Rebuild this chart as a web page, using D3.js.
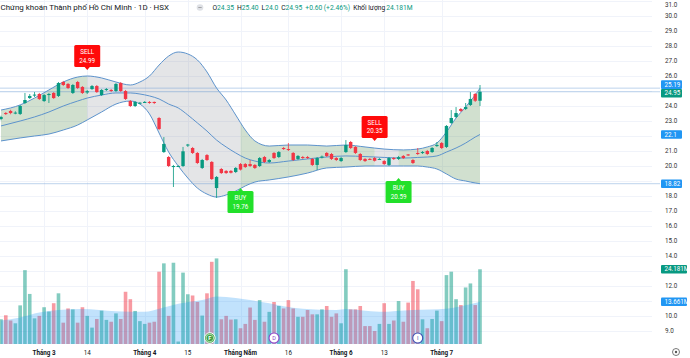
<!DOCTYPE html>
<html><head><meta charset="utf-8">
<script src="https://cdn.jsdelivr.net/npm/d3@7"></script>
<style>
body{margin:0;background:#fff;}
svg{display:block;font-family:Roboto,"Noto Sans",sans-serif;}
</style>
</head><body>
<svg id="c" width="690" height="358"></svg>
<script>
// ---------------- DATA ----------------
const opens = [23.13,23.53,23.67,23.53,23.47,24.2,24.53,24.73,24.8,24.33,
 24.73,24.87,24.67,25.6,25.47,24.87,25.6,25.27,24.9,25.13,
 25.33,24.73,25.1,25.07,25.0,25.53,25.0,24.33,24.0,24.2,
 24.23,24.27,24.27,23.2,20.93,20.6,19.93,19.97,20.0,21.37,
 21.2,20.87,19.87,20.73,20.27,18.53,19.8,19.67,19.67,19.6,
 20.13,20.13,20.13,20.07,20.0,20.6,20.27,20.87,20.6,21.2,
 21.13,20.87,20.47,20.6,20.6,20.47,20.07,20.57,20.87,20.8,
 20.53,20.33,20.93,21.6,21.27,20.8,20.47,20.47,20.53,20.45,
 20.33,20.07,20.53,20.47,20.67,20.77,20.4,20.87,20.87,21.0,
 20.93,21.33,21.53,21.27,22.87,23.27,23.8,23.8,24.07,24.8,
 24.35];
const highs = [23.35,23.6,23.75,23.65,24.07,24.87,24.8,24.93,24.87,24.8,
 24.87,24.93,25.6,25.67,25.53,25.47,25.67,25.33,25.07,25.4,
 25.4,25.13,25.2,25.13,25.53,25.6,25.07,24.4,24.33,24.27,
 24.33,24.33,24.3,23.27,21.93,20.67,20.07,20.05,21.27,21.47,
 21.27,20.93,20.47,20.8,20.33,19.33,19.87,19.73,19.73,19.93,
 20.2,20.2,20.4,20.13,20.6,20.67,20.47,20.93,21.0,21.27,
 21.53,20.93,20.73,20.67,20.67,20.53,20.6,20.7,20.93,20.87,
 20.6,20.6,21.73,21.67,21.33,20.87,20.53,20.53,20.6,20.53,
 20.4,20.6,20.6,20.67,20.73,20.8,20.47,21.2,21.0,21.07,
 21.27,21.6,21.6,22.73,23.73,23.93,23.87,24.2,24.93,24.87,
 25.4];
const lows = [23.05,23.4,23.45,23.45,23.4,24.13,24.47,24.6,24.4,24.27,
 24.2,24.47,24.6,25.33,25.13,24.8,25.13,24.8,24.8,25.07,
 24.87,24.67,25.0,24.93,24.93,24.93,24.4,23.93,23.93,24.13,
 24.2,24.15,24.13,22.4,20.87,19.93,18.6,19.93,19.93,21.27,
 20.8,20.13,19.8,20.33,19.07,17.87,19.47,19.47,19.5,19.53,
 19.7,19.87,19.93,19.8,19.93,20.2,20.2,20.47,20.53,21.07,
 21.0,20.33,20.4,20.47,20.47,20.0,19.73,20.5,20.6,20.4,
 20.33,20.27,20.87,21.13,20.8,20.33,20.27,20.4,20.3,20.4,
 20.07,20.0,20.4,20.4,20.47,20.67,20.13,20.73,20.8,20.73,
 20.87,21.27,21.13,21.2,22.8,23.2,23.6,23.73,24.0,24.27,
 24.0];
const closes = [23.27,23.47,23.53,23.56,24.0,24.4,24.67,24.76,24.47,24.73,
 24.8,24.53,25.53,25.4,25.2,25.4,25.2,24.87,24.99,25.33,
 24.93,25.07,25.13,25.0,25.47,25.0,24.47,24.0,24.27,24.22,
 24.27,24.22,24.2,22.47,21.47,20.0,20.0,20.0,20.98,21.43,
 20.87,20.2,20.4,20.4,19.13,19.27,19.53,19.53,19.55,19.87,
 19.76,19.93,20.0,19.87,20.53,20.27,20.4,20.53,20.93,21.13,
 21.07,20.4,20.67,20.53,20.53,20.07,20.53,20.63,20.67,20.47,
 20.4,20.53,21.4,21.2,20.87,20.4,20.33,20.45,20.35,20.47,
 20.13,20.53,20.47,20.59,20.53,20.73,20.2,20.8,20.93,20.8,
 21.2,21.4,21.2,22.67,23.2,23.53,23.67,23.93,24.47,24.35,
 24.95];
const volumes = [8.0,9.3,7.6,6.7,12.5,23.9,16.2,8.3,9.1,11.9,
 10.5,13.2,16.4,6.9,11.5,11.2,6.9,11.9,9.1,5.3,
 8.1,10.8,7.8,7.2,9.9,8.1,16.9,14.5,10.7,7.4,
 6.5,6.9,7.2,23.4,26.1,9.1,26.3,0.8,23.1,16.1,
 15.7,13.6,9.2,16.4,26.6,27.7,8.0,9.1,7.9,8.0,
 5.1,6.5,11.8,7.8,14.2,7.2,10.4,13.6,12.3,11.5,
 14.2,11.5,8.8,8.8,11.0,9.6,9.6,11.2,12.3,8.8,
 9.9,6.7,24.2,11.2,11.2,12.3,5.8,5.8,4.2,6.5,
 13.2,6.5,7.6,13.9,7.2,13.4,20.4,17.7,8.0,5.1,
 8.1,10.8,7.4,22.3,23.4,14.5,12.6,18.3,19.6,12.6,
 24.181];

// Bollinger band readings (bar index -> price)
const bandIdx   = [0,4,7,10,13,16,18,21,24,27,29,31,33,35,37,39,41,43,45,47,49,51,53,56,60,64,68,72,76,80,84,87,89,91,93,95,97,98,99,100];
const bandUpper = [23.73,24.07,24.53,25.07,25.6,25.93,26.0,25.87,25.6,25.4,25.6,26.0,26.73,27.33,27.6,27.47,27.07,26.27,25.2,24.4,23.4,22.4,21.67,21.33,21.4,21.4,21.33,21.4,21.27,21.13,21.07,21.13,21.27,21.53,22.27,23.2,23.93,24.33,24.73,25.19];
const bandMid   = [22.67,23.0,23.27,23.6,24.0,24.33,24.53,24.73,24.87,24.87,24.8,24.67,24.47,24.13,23.87,23.4,22.87,22.33,21.73,21.27,20.87,20.53,20.33,20.2,20.33,20.47,20.6,20.67,20.63,20.57,20.53,20.57,20.6,20.67,20.93,21.2,21.53,21.73,21.93,22.1];
const bandLower = [21.67,21.87,22.0,22.13,22.4,22.73,23.07,23.6,24.13,24.33,24.13,23.47,22.2,20.93,20.0,19.2,18.53,18.13,17.93,18.07,18.33,18.67,18.93,19.07,19.27,19.53,19.87,19.93,20.0,20.0,20.0,20.0,19.93,19.8,19.47,19.13,19.0,18.93,18.87,18.82];

// Volume moving average readings
const volMaIdx = [0,4,8,12,17,24,30,33,37,42,45,49,52,56,59,63,70,72,79,86,93,96,100];
const volMa    = [7.6,8.6,10.2,11.0,11.3,10.6,10.4,11.4,13.0,14.2,15.4,14.9,14.2,13.2,12.2,11.4,11.0,11.3,10.4,11.0,11.4,12.2,13.661];

// Signal regimes (fill colour) and labels
const regimeFrom = [0,18,50,78,83];
const regimeTo   = [18,50,78,83,100];
const regimeType = ["buy","sell","buy","sell","buy"];
const signalIdx   = [18,50,78,83];
const signalType  = ["SELL","BUY","SELL","BUY"];
const signalValue = ["24.99","19.76","20.35","20.59"];
const signalTip   = [26.4,18.53,21.67,19.2];

// Time axis
const timeTickIdx    = [9,18,30,39,50,60,71,80,92];
const timeTickLabels = ["Tháng 3","14","Tháng 4","15","Tháng Năm","16","Tháng 6","13","Tháng 7"];
const timeTickBold   = [true,false,true,false,true,false,true,false,true];

// Price axis ticks
const priceTicks = d3.range(9, 32, 1);

// Event markers on volume pane
const eventIdx    = [43.6,57,87];
const eventLetter = ["F","D","I"];

// Header
const titleText = "Chứng khoán Thành phố Hồ Chí Minh · 1D · HSX";
const ohlcLabels = ["O","H","L","C"];
const ohlcValues = ["24.35","25.40","24.0","24.95"];
const changeText = "+0.60 (+2.46%)";
const volLabel = "Khối lượng";
const volValueText = "24.181M";

// Axis value tags
const priceTagTexts = ["25.19","24.95","22.1","18.82"];
const volTagTexts = ["24.181M","13.661M"];

// ---------------- CHART ----------------
const svg = d3.select("#c");
const UP = "#089981", DOWN = "#f23645", BLUE = "#2196f3";
const plotRight = 652;
const x = d3.scaleLinear().domain([0, 100]).range([1, 480]);
const y = d3.scaleLinear().domain([9, 31]).range([331, 1]);
const yv = d3.scaleLinear().domain([0, 30]).range([344, 344 - 30 * 3.09]);
const last = closes.length - 1;

// grid
const grid = svg.append("g");
grid.selectAll("line.h").data(priceTicks).join("line")
  .attr("x1", 0).attr("x2", plotRight)
  .attr("y1", d => Math.round(y(d)) + 0.5).attr("y2", d => Math.round(y(d)) + 0.5)
  .attr("stroke", "#f0f3fa").attr("stroke-width", 1);
grid.selectAll("line.v").data(timeTickIdx).join("line")
  .attr("x1", d => Math.round(x(d)) + 0.5).attr("x2", d => Math.round(x(d)) + 0.5)
  .attr("y1", 0).attr("y2", 345)
  .attr("stroke", "#f0f3fa").attr("stroke-width", 1);

// bands
const bandRows = bandIdx.map((i, k) => ({ i, u: bandUpper[k], m: bandMid[k], l: bandLower[k] }));
const defs = svg.append("defs");
regimeFrom.forEach((f, k) => {
  defs.append("clipPath").attr("id", "reg" + k).append("rect")
    .attr("x", k === 0 ? -5 : x(f)).attr("width", x(regimeTo[k]) - (k === 0 ? -5 : x(f)))
    .attr("y", 0).attr("height", 358);
});
const bandArea = d3.area().x(d => x(d.i)).y0(d => y(d.l)).y1(d => y(d.u)).curve(d3.curveMonotoneX);
regimeFrom.forEach((f, k) => {
  svg.append("path").datum(bandRows).attr("d", bandArea)
    .attr("clip-path", `url(#reg${k})`)
    .attr("fill", regimeType[k] === "buy" ? "rgba(86,140,78,0.27)" : "rgba(120,123,134,0.2)");
});
const lineOf = key => d3.line().x(d => x(d.i)).y(d => y(d[key])).curve(d3.curveMonotoneX);
["u", "m", "l"].forEach(key => {
  svg.append("path").datum(bandRows).attr("d", lineOf(key))
    .attr("fill", "none").attr("stroke", "#5d93cc").attr("stroke-width", 1);
});

// horizontal price lines
const priceLineVals = [bandUpper[bandUpper.length - 1], closes[last], bandLower[bandLower.length - 1]];
svg.selectAll("line.pl").data(priceLineVals).join("line")
  .attr("x1", 0).attr("x2", 660)
  .attr("y1", d => y(d)).attr("y2", d => y(d))
  .attr("stroke", "rgba(110,160,215,0.45)").attr("stroke-width", 1);

// volume bars
const idxs = d3.range(closes.length);
svg.append("g").selectAll("rect").data(idxs).join("rect")
  .attr("x", i => x(i) - 1.8).attr("width", 3.6)
  .attr("y", i => yv(volumes[i])).attr("height", i => yv(0) - yv(volumes[i]))
  .attr("fill", i => closes[i] >= opens[i] ? "rgba(8,153,129,0.5)" : "rgba(242,54,69,0.5)");

// volume MA area
const vmaRows = volMaIdx.map((i, k) => ({ i, v: volMa[k] }));
svg.append("path").datum(vmaRows)
  .attr("d", d3.area().x(d => x(d.i)).y0(yv(0)).y1(d => yv(d.v)).curve(d3.curveMonotoneX))
  .attr("fill", "rgba(33,150,243,0.28)");

// candles
const cg = svg.append("g");
cg.selectAll("line").data(idxs).join("line")
  .attr("x1", i => x(i)).attr("x2", i => x(i))
  .attr("y1", i => y(highs[i])).attr("y2", i => y(lows[i]))
  .attr("stroke", i => closes[i] >= opens[i] ? UP : DOWN).attr("stroke-width", 0.8);
cg.selectAll("rect").data(idxs).join("rect")
  .attr("x", i => x(i) - 1.7).attr("width", 3.4)
  .attr("y", i => y(Math.max(opens[i], closes[i])))
  .attr("height", i => Math.max(1, Math.abs(y(opens[i]) - y(closes[i]))))
  .attr("fill", i => closes[i] >= opens[i] ? UP : DOWN);

// signal labels
signalIdx.forEach((si, k) => {
  const isSell = signalType[k] === "SELL";
  const col = isSell ? "#ff0a0a" : "#22e02a";
  const cx = x(si), tip = y(signalTip[k]);
  const bw = 26, bh = 22;
  const top = isSell ? tip - 3 - bh : tip + 3;
  const g = svg.append("g");
  g.append("rect").attr("x", cx - bw / 2).attr("y", top).attr("width", bw).attr("height", bh)
    .attr("rx", 1.5).attr("fill", col);
  const tri = isSell
    ? [[cx - 3, tip - 3.5], [cx + 3, tip - 3.5], [cx, tip]]
    : [[cx - 3, tip + 3.5], [cx + 3, tip + 3.5], [cx, tip]];
  g.append("path").attr("d", d3.line()(tri) + "Z").attr("fill", col);
  g.append("text").attr("x", cx).attr("y", top + 9).attr("text-anchor", "middle")
    .attr("font-size", 6.3).attr("fill", "#fff").text(signalType[k]);
  g.append("text").attr("x", cx).attr("y", top + 17.5).attr("text-anchor", "middle")
    .attr("font-size", 6.3).attr("fill", "#fff").text(signalValue[k]);
});

// event markers
const evColors = ["#43a047", "#8e44c9", "#3f51b5"];
eventIdx.forEach((ei, k) => {
  const g = svg.append("g");
  if (k === 0) {
    g.append("circle").attr("cx", x(ei)).attr("cy", 338).attr("r", 5.3).attr("fill", evColors[k]).attr("stroke", "#fff").attr("stroke-width", 1);
    g.append("circle").attr("cx", x(ei)).attr("cy", 338).attr("r", 3.8).attr("fill", "none").attr("stroke", "#c8f0c8").attr("stroke-width", 0.8);
    g.append("text").attr("x", x(ei)).attr("y", 340.2).attr("text-anchor", "middle").attr("font-size", 5.5).attr("font-weight", "bold").attr("fill", "#fff").text(eventLetter[k]);
  } else {
    g.append("circle").attr("cx", x(ei)).attr("cy", 338).attr("r", 5).attr("fill", "#fff").attr("stroke", evColors[k]).attr("stroke-width", 1.1);
    g.append("text").attr("x", x(ei)).attr("y", 340.2).attr("text-anchor", "middle").attr("font-size", 5.5).attr("fill", evColors[k]).text(eventLetter[k]);
  }
});

// time axis labels
svg.append("g").selectAll("text").data(timeTickIdx).join("text")
  .attr("x", i => x(i)).attr("y", 354.5).attr("text-anchor", "middle")
  .attr("font-size", 6.3).attr("fill", "#131722")
  .attr("font-weight", (d, k) => timeTickBold[k] ? "bold" : "normal")
  .text((d, k) => timeTickLabels[k]);

// value tags on the right axis
const priceTagVals = [bandUpper[bandUpper.length - 1], closes[last], bandMid[bandMid.length - 1], bandLower[bandLower.length - 1]];
const priceTagCols = [BLUE, UP, BLUE, BLUE];
const priceTagShift = [-3.5, 1.5, 0, 0];
const volTagVals = [volumes[last], volMa[volMa.length - 1]];
const volTagCols = [UP, BLUE];
const tagCenters = priceTagVals.map((v, k) => y(v) + priceTagShift[k]).concat(volTagVals.map(v => yv(v)));

// price tick labels (hidden where a tag sits)
svg.append("g").selectAll("text").data(priceTicks.filter(t => tagCenters.every(c => Math.abs(c - y(t)) > 6)))
  .join("text").attr("x", 665).attr("y", t => Math.max(y(t) + 2.2, 6.6))
  .attr("font-size", 6.3).attr("fill", "#333").text(t => t.toFixed(1));

function tag(cy, txt, col, w) {
  svg.append("rect").attr("x", 661).attr("y", cy - 4.3).attr("width", w).attr("height", 8.6).attr("rx", 1).attr("fill", col);
  svg.append("text").attr("x", 664.5).attr("y", cy + 2.2).attr("font-size", 6.3).attr("fill", "#fff").text(txt);
}
priceTagVals.forEach((v, k) => tag(y(v) + priceTagShift[k], priceTagTexts[k], priceTagCols[k], 21));
volTagVals.forEach((v, k) => tag(yv(v), volTagTexts[k], volTagCols[k], 26));

// header
svg.append("text").attr("x", 0.5).attr("y", 10).attr("font-size", 7.95).attr("fill", "#131722").text(titleText);
svg.append("circle").attr("cx", 200).attr("cy", 7.5).attr("r", 3.3).attr("fill", "#dfe1e6");
svg.append("line").attr("x1", 198.3).attr("x2", 201.7).attr("y1", 7.5).attr("y2", 7.5).attr("stroke", "#888").attr("stroke-width", 0.7);
const ohlc = svg.append("text").attr("x", 212.5).attr("y", 10).attr("font-size", 6.7);
ohlcLabels.forEach((l, k) => {
  ohlc.append("tspan").attr("fill", "#131722").attr("dx", k === 0 ? 0 : 3).text(l);
  ohlc.append("tspan").attr("fill", UP).text(ohlcValues[k]);
});
ohlc.append("tspan").attr("fill", UP).attr("dx", 3).text(changeText);
ohlc.append("tspan").attr("fill", "#131722").attr("dx", 3).text(volLabel);
ohlc.append("tspan").attr("fill", UP).attr("dx", 1).text(volValueText);

// bottom-right icon
svg.append("circle").attr("cx", 676).attr("cy", 352).attr("r", 3.5).attr("fill", "none").attr("stroke", "#555").attr("stroke-width", 0.8);
svg.append("circle").attr("cx", 676).attr("cy", 352).attr("r", 1.2).attr("fill", "#555");
</script>
</body></html>
